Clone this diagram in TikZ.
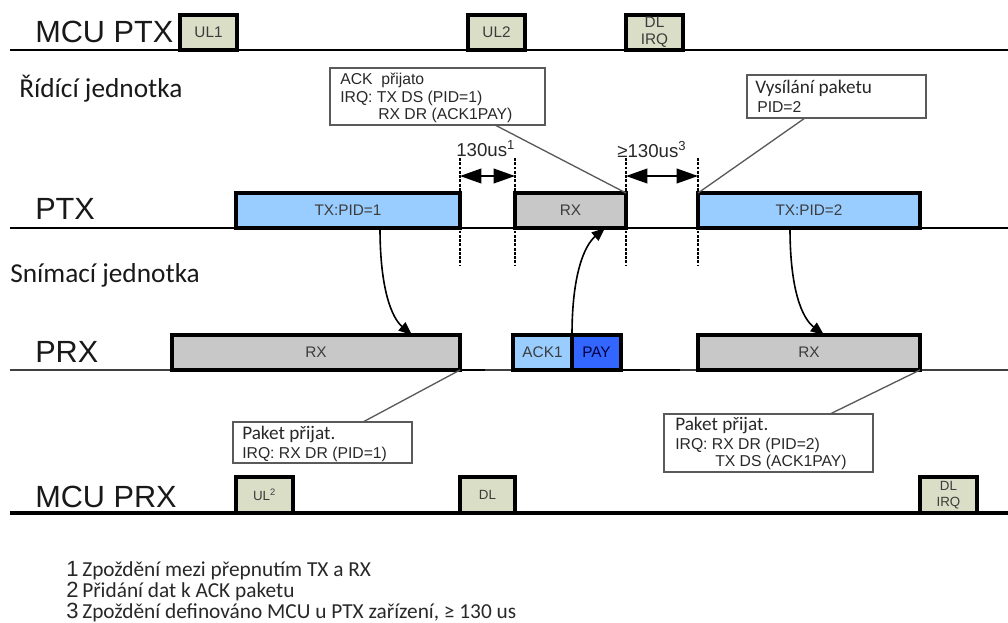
\documentclass[tikz,border=0pt]{standalone}
\usepackage{fontspec}
\setmainfont{Liberation Sans}
\newfontfamily\cali{Carlito}
\usetikzlibrary{arrows.meta}
\definecolor{khaki}{RGB}{218,222,198}
\definecolor{lblue}{RGB}{153,204,255}
\definecolor{pgray}{RGB}{200,200,200}
\definecolor{payblue}{RGB}{51,102,255}
\definecolor{lblgray}{RGB}{60,60,60}
\definecolor{cgray}{RGB}{90,90,90}
\definecolor{tgray}{RGB}{40,40,40}
% name, x1, y1, x2, y2, style, text
\newcommand\mybox[7]{%
  \node[#6, minimum width={(#4-#2)*0.75pt}, minimum height={(#5-#3)*0.75pt}]
    (#1) at ({(#2+#4)/2},{(#3+#5)/2}) {#7};}
\begin{document}
\begin{tikzpicture}[x=0.75pt,y=-0.75pt,
  rowline/.style={line width=1.6pt},
  boxbase/.style={draw=black, line width=2.6pt, inner sep=0pt, outer sep=0pt, align=center,
     text=lblgray, font=\fontsize{11.5}{12.5}\selectfont},
  mcubox/.style={boxbase, fill=khaki},
  mcuboxs/.style={boxbase, fill=khaki, font=\fontsize{10}{11.5}\selectfont},
  pbox/.style={boxbase},
  callout/.style={draw=cgray, line width=1pt, fill=white, inner sep=0pt, outer sep=0pt},
  cline/.style={draw=cgray, line width=1pt},
  dashv/.style={line width=1.8pt, dash pattern=on 2.2pt off 1pt},
  dim/.style={line width=1.3pt, {Triangle[length=16pt,width=11pt]}-{Triangle[length=16pt,width=11pt]}},
  flow/.style={line width=1.2pt, -{Triangle[length=10pt,width=8pt]}},
  txt/.style={anchor=base west, inner sep=0pt, text=tgray},
  rowlbl/.style={anchor=base west, inner sep=0pt, text=black!90, font=\fontsize{23}{25}\selectfont},
  hdr/.style={anchor=base west, inner sep=0pt, text=black!90, font=\cali\fontsize{20.5}{22}\selectfont},
  ctxt/.style={txt, font=\fontsize{11.8}{13}\selectfont},
  ctxtc/.style={txt, font=\cali\fontsize{14.4}{16}\selectfont},
  fn/.style={txt, font=\cali\fontsize{16}{18}\selectfont},
  fnum/.style={txt, font=\fontsize{16.5}{18}\selectfont}
]
\useasboundingbox (0,0) rectangle (1008,622);

% ---- row lines
\draw[rowline] (10,50) -- (1008,50);
\draw[rowline] (10,228) -- (1008,228);
\draw[line width=1.1pt, black!75] (10,370) -- (1008,370);
\draw[line width=2pt] (460,370) -- (485,370);
\draw[line width=2pt] (621,370) -- (680,370);
\draw[line width=2.4pt] (10,513) -- (1008,513);

% ---- row labels
\node[rowlbl] (lmcuptx) at (35,42) {MCU PTX};
\node[hdr] (lridici) at (19,97) {Řídící jednotka};
\node[rowlbl] (lptx) at (35,219) {PTX};
\node[hdr] (lsnimaci) at (10,282) {Snímací jednotka};
\node[rowlbl] (lprx) at (35,362) {PRX};
\node[rowlbl] (lmcuprx) at (35,507) {MCU PRX};

% ---- MCU PTX boxes
\mybox{ul1}{180}{15}{237}{50}{mcubox}{UL1}
\mybox{ul2}{468}{15}{525}{50}{mcubox}{UL2}
\mybox{dlirqa}{626}{15}{683}{50}{mcubox}{DL\\IRQ}

% ---- dashed guides
\coordinate (g1t) at (460,158); \coordinate (g1b) at (460,265);
\coordinate (g2t) at (515,158); \coordinate (g2b) at (515,265);
\coordinate (g3t) at (626,158); \coordinate (g3b) at (626,265);
\coordinate (g4t) at (698,158); \coordinate (g4b) at (698,265);
\draw[dashv] (g1t) -- (g1b);
\draw[dashv] (g2t) -- (g2b);
\draw[dashv] (g3t) -- (g3b);
\draw[dashv] (g4t) -- (g4b);

% ---- PTX boxes
\mybox{tx1}{236}{193}{460}{228}{pbox, fill=lblue}{TX:PID=1}
\mybox{rxp}{515}{193}{626}{228}{pbox, fill=pgray}{RX}
\mybox{tx2}{698}{193}{920}{228}{pbox, fill=lblue}{TX:PID=2}

% ---- PRX boxes
\mybox{rx1}{172}{335}{460}{370}{pbox, fill=pgray}{RX}
\mybox{ack}{513}{335}{572}{370}{pbox, fill=lblue}{ACK1}
\mybox{pay}{572}{335}{621}{370}{pbox, fill=payblue, text=black!75!blue}{PAY}
\mybox{rx2}{698}{335}{920}{370}{pbox, fill=pgray}{RX}

% ---- MCU PRX boxes
\mybox{ulb}{236}{477}{293}{513}{mcuboxs}{UL\textsuperscript{2}}
\mybox{dlb}{460}{477}{515}{513}{mcuboxs}{DL}
\mybox{dlirqb}{920}{477}{977}{513}{mcuboxs}{DL\\IRQ}

% ---- timing arrows
\coordinate (d1a) at (460,176); \coordinate (d1b) at (515,176);
\coordinate (d2a) at (626,176); \coordinate (d2b) at (698,176);
\draw[dim] (d1a) -- (d1b);
\draw[dim] (d2a) -- (d2b);
\node[txt, font=\fontsize{14}{16}\selectfont] (t130) at (456,156) {130us\textsuperscript{1}};
\node[txt, font=\fontsize{14}{16}\selectfont] (t130b) at (617,157) {≥130us\textsuperscript{3}};

% ---- flow arrows
\coordinate (f1s) at (380,228); \coordinate (f1e) at (412,335);
\coordinate (f2s) at (572,335); \coordinate (f2e) at (605,228);
\coordinate (f3s) at (790,228); \coordinate (f3e) at (824,335);
\draw[flow] (f1s) .. controls (380,290) and (392,318) .. (f1e);
\draw[flow] (f2s) .. controls (572,275) and (584,246) .. (f2e);
\draw[flow] (f3s) .. controls (790,290) and (802,318) .. (f3e);

% ---- callouts
\coordinate (c1) at (495,125);
\coordinate (c2) at (805,118);
\coordinate (c3) at (363,422);
\coordinate (c4) at (830,414);
\draw[cline] (c1) -- (rxp.north east);
\draw[cline] (c2) -- (tx2.north west);
\draw[cline] (c3) -- (rx1.south east);
\draw[cline] (c4) -- (rx2.south east);

\mybox{ackbox}{330}{68}{545}{125}{callout}{}
\node[ctxt] (ackt1) at (340,84) {ACK\ \ přijato};
\node[ctxt] (ackt2) at (340,102) {IRQ: TX DS (PID=1)};
\node[ctxt] (ackt3) at (378,119) {RX DR (ACK1PAY)};

\mybox{vysbox}{747}{75}{926}{118}{callout}{}
\node[ctxtc] (vyst1) at (755,93) {Vysílání paketu};
\node[ctxt] (vyst2) at (757,112) {PID=2};

\mybox{pk1box}{233}{422}{412}{463}{callout}{}
\node[ctxtc] (pk1t1) at (242,439) {Paket přijat.};
\node[ctxt] (pk1t2) at (242,458) {IRQ: RX DR (PID=1)};

\mybox{pk2box}{664}{414}{873}{472}{callout}{}
\node[ctxtc] (pk2t1) at (675,430) {Paket přijat.};
\node[ctxt] (pk2t2) at (675,449) {IRQ: RX DR (PID=2)};
\node[ctxt] (pk2t3) at (715,466) {TX DS (ACK1PAY)};

% ---- footnotes
\node[fnum] (n1) at (66,576) {1};
\node[fn] (fn1) at (82,576) {Zpoždění mezi přepnutím TX a RX};
\node[fnum] (n2) at (66,597) {2};
\node[fn] (fn2) at (82,597) {Přidání dat k ACK paketu};
\node[fnum] (n3) at (66,618) {3};
\node[fn] (fn3) at (82,618) {Zpoždění definováno MCU u PTX zařízení, ≥ 130 us};
\end{tikzpicture}
\end{document}
